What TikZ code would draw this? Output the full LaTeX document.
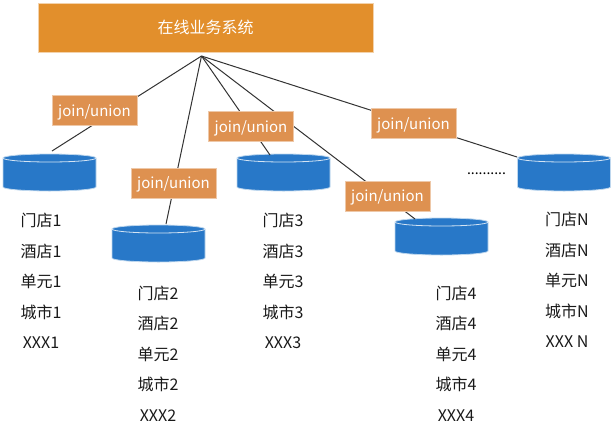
\documentclass[tikz,border=0pt]{standalone}
\usepackage{fontspec}
\setmainfont{Noto Sans CJK SC}
\definecolor{sysorange}{HTML}{E28F2C}
\definecolor{joinorange}{HTML}{DE9150}
\definecolor{dbblue}{HTML}{2878C8}
\newcommand{\dbnode}[3]{%
  \node[db] (#1) at (#2,#3) {};
  \draw[dbbody] ([yshift=-4pt]#1.north west) -- ([yshift=4pt]#1.south west)
    arc[start angle=180, end angle=360, x radius=46.5pt, y radius=4pt]
    -- ([yshift=-4pt]#1.north east)
    arc[start angle=0, end angle=180, x radius=46.5pt, y radius=4pt] -- cycle;
  \draw[dbrim] ([yshift=-4pt]#1.north west)
    arc[start angle=180, end angle=360, x radius=46.5pt, y radius=4pt];
}

\begin{document}
\begin{tikzpicture}[
  x=1pt, y=-1pt,
  sysbox/.style={draw=sysorange!40, fill=sysorange, text=white, minimum width=335pt, minimum height=49pt, inner sep=0pt, font=\fontsize{16}{19}\selectfont},
  joinbox/.style={draw=joinorange!50, fill=joinorange, text=white, minimum width=85pt, minimum height=30pt, inner sep=0pt, text height=11pt, text depth=0pt, font=\fontsize{15}{17}\selectfont},
  db/.style={minimum width=93pt, minimum height=37pt, inner sep=0pt, outer sep=0pt},
  dbbody/.style={fill=dbblue, draw=dbblue!30, line width=0.8pt},
  dbrim/.style={draw=dbblue!20, line width=0.8pt},
  items/.style={align=center, inner sep=0pt, text=black!90, font=\fontsize{16}{30.4}\selectfont},
  link/.style={draw=black!80, line width=1pt}
]
\useasboundingbox (0,0) rectangle (613,429);

\node[sysbox] (sys) at (205.5,27.5) {在线业务系统};
\coordinate (hub) at (201.5,56);

\dbnode{db1}{49.5}{172.5}
\dbnode{db2}{158.5}{243.5}
\dbnode{db3}{283.5}{172.5}
\dbnode{db4}{441.5}{236.5}
\dbnode{dbn}{564}{172.5}

\coordinate (end1) at (52,151);
\coordinate (end2) at (166,224);
\coordinate (end3) at (270,155);
\coordinate (end4) at (415,219);
\coordinate (endn) at (517,157);

\draw[link] (hub) -- (end1);
\draw[link] (hub) -- (end2);
\draw[link] (hub) -- (end3);
\draw[link] (hub) -- (end4);
\draw[link] (hub) -- (endn);

\node[joinbox] (j1) at (94.5,110.5) {join/union};
\node[joinbox] (j2) at (173.5,183) {join/union};
\node[joinbox] (j3) at (251,126.5) {join/union};
\node[joinbox] (j4) at (387.5,196) {join/union};
\node[joinbox] (jn) at (413.5,123.5) {join/union};

\node[items] (list1) at (41,281) {门店1\\酒店1\\单元1\\城市1\\XXX1};
\node[items] (list2) at (158,353.5) {门店2\\酒店2\\单元2\\城市2\\XXX2};
\node[items] (list3) at (283,281) {门店3\\酒店3\\单元3\\城市3\\XXX3};
\node[items] (list4) at (456,353.5) {门店4\\酒店4\\单元4\\城市4\\XXX4};
\node[items] (listn) at (567,280) {门店N\\酒店N\\单元N\\城市N\\XXX N};

\node[inner sep=0pt, font=\fontsize{14}{17}\selectfont] (dots) at (486.5,174) {..........};
\end{tikzpicture}
\end{document}
